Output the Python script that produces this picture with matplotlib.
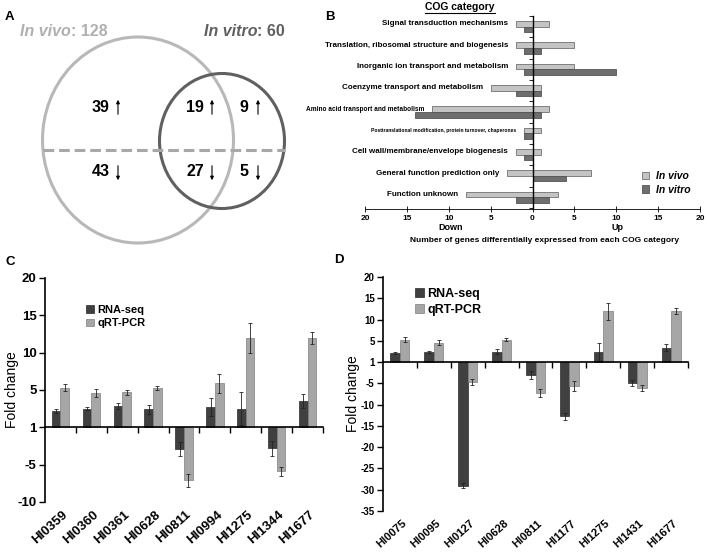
import numpy as np
import matplotlib.pyplot as plt
from matplotlib.patches import Ellipse, Patch
from matplotlib.lines import Line2D
from matplotlib.transforms import blended_transform_factory

plt.rcParams['font.family'] = ['Liberation Sans', 'DejaVu Sans']
plt.rcParams['font.weight'] = 'bold'

W, H = 707, 553

# ---- panel A: venn counts (up / down per region)
venn_up = [39, 19, 9]
venn_down = [43, 27, 5]
total_vivo = 128
total_vitro = 60

# ---- panel B: COG categories, gene counts
cog_categories = [
    'Signal transduction mechanisms',
    'Translation, ribosomal structure and biogenesis',
    'Inorganic ion transport and metabolism',
    'Coenzyme transport and metabolism',
    'Amino acid transport and metabolism',
    'Posttranslational modification, protein turnover, chaperones',
    'Cell wall/membrane/envelope biogenesis',
    'General function prediction only',
    'Function unknown',
]
cog_fontsize = [5.8, 5.8, 5.8, 5.8, 4.7, 3.6, 5.8, 5.8, 5.8]
vivo_up = [2, 5, 5, 1, 2, 1, 1, 7, 3]
vivo_down = [2, 2, 2, 5, 12, 1, 2, 3, 8]
vitro_up = [0, 1, 10, 1, 1, 0, 0, 4, 2]
vitro_down = [1, 1, 1, 2, 14, 1, 1, 0, 2]

# ---- panel C: validation (axis units, "1" drawn at 0)
genes_c = ['HI0359', 'HI0360', 'HI0361', 'HI0628', 'HI0811', 'HI0994', 'HI1275', 'HI1344', 'HI1677']
rnaseq_c = [2.2, 2.5, 2.9, 2.4, -2.9, 2.7, 2.5, -2.8, 3.5]
rnaseq_c_err = [0.3, 0.2, 0.4, 0.6, 1.0, 1.2, 2.2, 1.0, 0.9]
qpcr_c = [5.3, 4.6, 4.7, 5.3, -7.1, 5.9, 12.0, -5.9, 12.0]
qpcr_c_err = [0.5, 0.6, 0.35, 0.3, 0.9, 1.3, 2.0, 0.6, 0.8]

# ---- panel D
genes_d = ['HI0075', 'HI0095', 'HI0127', 'HI0628', 'HI0811', 'HI1177', 'HI1275', 'HI1431', 'HI1677']
rnaseq_d = [2.1, 2.4, -29.1, 2.4, -3.0, -12.7, 2.4, -4.9, 3.4]
rnaseq_d_err = [0.3, 0.3, 0.6, 0.6, 1.0, 0.8, 2.2, 0.7, 0.9]
qpcr_d = [5.3, 4.6, -4.7, 5.3, -7.3, -5.7, 12.0, -6.0, 12.0]
qpcr_d_err = [0.5, 0.6, 0.8, 0.3, 0.9, 1.2, 2.0, 0.7, 0.8]

DARK = '#404040'


def px_axes(fig, left, top, right, bottom):
    return fig.add_axes([left / W, 1 - bottom / H, (right - left) / W, (bottom - top) / H])


def fx(x):
    return x / W


def fy(y):
    return 1 - y / H


fig = plt.figure(figsize=(W / 100, H / 100), dpi=100)
renderer = fig.canvas.get_renderer()

# ================= A: venn =================
ax_a = px_axes(fig, 0, 0, 350, 260)
ax_a.set_xlim(0, 350)
ax_a.set_ylim(260, 0)
ax_a.axis('off')
ax_a.add_patch(Ellipse((138, 140), 191, 206, fill=False, ec='#b8b8b8', lw=2.2))
ax_a.add_patch(Ellipse((222, 141), 125, 135, fill=False, ec='#606060', lw=2.2))
ax_a.plot([43, 285], [150, 150], ls=(0, (3.5, 1.6)), color='#a8a8a8', lw=2.2)

num_x = [101, 195, 244]
arrow_x = [118, 212, 258]
for i in range(3):
    ax_a.text(num_x[i], 108, str(venn_up[i]), ha='center', va='center', fontsize=11.5)
    ax_a.annotate('', xy=(arrow_x[i], 97), xytext=(arrow_x[i], 117),
                  arrowprops=dict(arrowstyle='-|>', lw=0.8, color='black', mutation_scale=5))
    ax_a.text(num_x[i], 171, str(venn_down[i]), ha='center', va='center', fontsize=11.5)
    ax_a.annotate('', xy=(arrow_x[i], 183), xytext=(arrow_x[i], 163),
                  arrowprops=dict(arrowstyle='-|>', lw=0.8, color='black', mutation_scale=5))

t1 = fig.text(fx(20), fy(32), 'In vivo', style='italic', fontsize=11.5, color='#b0b0b0', va='center')
bb = t1.get_window_extent(renderer)
fig.text(bb.x1 / W, fy(32), ': %d' % total_vivo, fontsize=11.5, color='#b0b0b0', va='center')
t2 = fig.text(fx(285), fy(32), ': %d' % total_vitro, fontsize=11.5, color='#606060', va='center', ha='right')
bb = t2.get_window_extent(renderer)
fig.text(bb.x0 / W, fy(32), 'In vitro', style='italic', fontsize=11.5, color='#606060', va='center', ha='right')

# ================= B: COG =================
ax_b = px_axes(fig, 365, 16, 700, 209)
n = len(cog_categories)
rows = -np.arange(n)
bh = 0.26
ax_b.barh(rows + bh / 2, np.array(vivo_up) + np.array(vivo_down), left=-np.array(vivo_down),
          height=bh, color='#c4c4c4', edgecolor='#707070', lw=0.6)
ax_b.barh(rows - bh / 2, np.array(vitro_up) + np.array(vitro_down), left=-np.array(vitro_down),
          height=bh, color='#6e6e6e', edgecolor='#555555', lw=0.6)
ax_b.set_xlim(-20, 20)
ax_b.set_ylim(-8.55, 0.5)
for s in ['top', 'right']:
    ax_b.spines[s].set_visible(False)
ax_b.spines['left'].set_position(('data', 0))
ax_b.spines['left'].set_linewidth(1.0)
ax_b.set_yticks(np.arange(-8.5, 0.6, 1))
ax_b.set_yticklabels([])
ax_b.tick_params(axis='y', length=3, width=0.6, direction='out')
ax_b.set_xticks(np.arange(-20, 21, 5))
ax_b.set_xticklabels([str(abs(v)) for v in range(-20, 21, 5)], fontsize=6)
ax_b.tick_params(axis='x', length=4, width=0.6, direction='inout', pad=2)
ax_b.spines['bottom'].set_linewidth(0.6)
for i in range(n):
    ax_b.text(-vivo_down[i] - 0.9, rows[i] + bh / 2, cog_categories[i], ha='right', va='center',
              fontsize=cog_fontsize[i], clip_on=False)

tc = fig.text(fx(460), fy(7), 'COG category', ha='center', va='center', fontsize=7.5)
bb = tc.get_window_extent(renderer)
fig.add_artist(Line2D([bb.x0 / W, bb.x1 / W], [(bb.y0 - 1) / H, (bb.y0 - 1) / H], color='black', lw=0.8))
fig.text(fx(451), fy(228), 'Down', ha='center', va='center', fontsize=6.5)
fig.text(fx(618), fy(228), 'Up', ha='center', va='center', fontsize=6.5)
fig.text(fx(545), fy(241), 'Number of genes differentially expressed from each COG category',
         ha='center', va='center', fontsize=6)
fig.legend(handles=[Patch(fc='#c4c4c4', ec='#707070', lw=0.6), Patch(fc='#6e6e6e', ec='#555555', lw=0.6)],
           labels=['In vivo', 'In vitro'], loc='upper left', bbox_to_anchor=(fx(642), fy(171)),
           frameon=False, prop={'style': 'italic', 'weight': 'bold', 'size': 7.5},
           handlelength=0.7, handleheight=0.7, handletextpad=0.6, labelspacing=0.35,
           borderpad=0, borderaxespad=0)


# ================= C & D: bars =================
def fold_panel(ax, genes, rna, rna_err, qpcr, qpcr_err, ymin, tick_fs, gene_fs, label_x, legend_at, legend_fs):
    x = np.arange(len(genes))
    w = 0.28
    ax.bar(x - w / 2, rna, w, color=DARK, edgecolor='#2a2a2a', lw=0.5)
    ax.bar(x + w / 2, qpcr, w, color='#a6a6a6', edgecolor='#808080', lw=0.5)
    ax.errorbar(x - w / 2, rna, yerr=rna_err, fmt='none', ecolor='#222222', elinewidth=0.6, capsize=1.3, capthick=0.6)
    ax.errorbar(x + w / 2, qpcr, yerr=qpcr_err, fmt='none', ecolor='#222222', elinewidth=0.6, capsize=1.3, capthick=0.6)
    ax.set_xlim(-0.5, len(genes) - 0.5)
    ax.set_ylim(ymin, 20)
    for s in ['top', 'right']:
        ax.spines[s].set_visible(False)
    ax.spines['bottom'].set_position(('data', 0))
    ax.spines['bottom'].set_linewidth(1.2)
    ax.spines['left'].set_linewidth(1.2)
    ax.set_xticks(np.arange(0.5, len(genes), 1))
    ax.set_xticklabels([])
    ax.tick_params(axis='x', length=4, width=1.0, direction='out')
    yt = np.arange(ymin, 21, 5)
    ax.set_yticks(yt)
    ax.set_yticklabels(['1' if v == 0 else str(v) for v in yt], fontsize=tick_fs)
    ax.tick_params(axis='y', length=4, width=1.0, direction='out', pad=2)
    ax.set_ylabel('Fold change', fontsize=10)
    ax.yaxis.set_label_coords(label_x, 0.5)
    tr = blended_transform_factory(ax.transData, ax.transAxes)
    for i, g in enumerate(genes):
        ax.text(i + 0.05, -0.03, g, transform=tr, rotation=42, ha='right', va='top',
                rotation_mode='anchor', fontsize=gene_fs)
    ax.legend(handles=[Patch(fc=DARK, ec='#2a2a2a', lw=0.5), Patch(fc='#a6a6a6', ec='#808080', lw=0.5)],
              labels=['RNA-seq', 'qRT-PCR'], loc='upper left', bbox_to_anchor=legend_at,
              bbox_transform=fig.transFigure, frameon=False, prop={'weight': 'bold', 'size': legend_fs},
              handlelength=0.7, handleheight=0.7, handletextpad=0.3, labelspacing=0.3,
              borderpad=0, borderaxespad=0)


ax_c = px_axes(fig, 45, 278, 323, 502)
fold_panel(ax_c, genes_c, rnaseq_c, rnaseq_c_err, qpcr_c, qpcr_c_err, -10, 9.5, 9.5, -0.095,
           (fx(86), fy(305)), 8)
ax_d = px_axes(fig, 383, 277, 688, 511)
fold_panel(ax_d, genes_d, rnaseq_d, rnaseq_d_err, qpcr_d, qpcr_d_err, -35, 7, 8, -0.075,
           (fx(415), fy(288)), 9)

for lab, x, y in [('A', 5, 17), ('B', 325, 17), ('C', 5, 262), ('D', 334, 260)]:
    fig.text(fx(x), fy(y), lab, ha='left', va='center', fontsize=9.5)

fig.savefig('out.png', dpi=100)
